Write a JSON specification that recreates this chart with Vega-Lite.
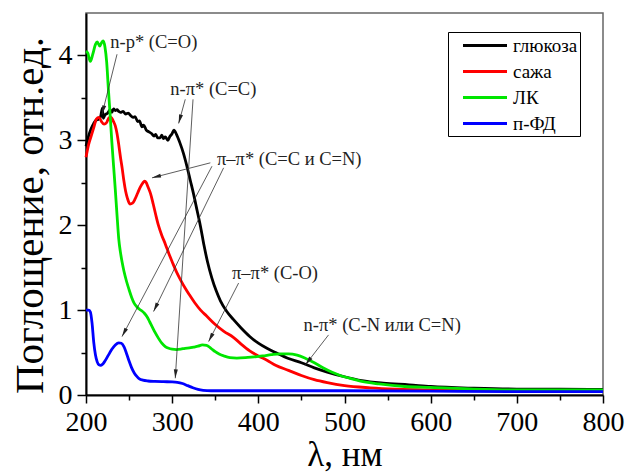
{
  "$schema": "https://vega.github.io/schema/vega-lite/v6.json",
  "autosize": "none",
  "width": 517,
  "height": 382,
  "padding": {"left": 86, "top": 13, "right": 23, "bottom": 78},
  "background": "white",
  "config": {
    "font": "Liberation Serif",
    "view": {"stroke": "#666", "strokeWidth": 1.5},
    "axis": {"grid": false, "domainColor": "#000", "domainWidth": 2, "tickColor": "#000", "tickWidth": 1.5,
      "labelFont": "Liberation Serif", "labelFontSize": 28, "labelColor": "#000", "labelFlush": false,
      "titleFont": "Liberation Serif", "titleColor": "#000", "titleFontWeight": "normal"}
  },
  "datasets": {
    "curves": [
      {"s":"глюкоза","x":200,"y":2.93},{"s":"глюкоза","x":203,"y":3.05},{"s":"глюкоза","x":206,"y":3.14},{"s":"глюкоза","x":209,"y":3.2},{"s":"глюкоза","x":212,"y":3.24},{"s":"глюкоза","x":215,"y":3.25},{"s":"глюкоза","x":217,"y":3.28},{"s":"глюкоза","x":219,"y":3.38},{"s":"глюкоза","x":220,"y":3.26},{"s":"глюкоза","x":222,"y":3.3},{"s":"глюкоза","x":225,"y":3.32},{"s":"глюкоза","x":228,"y":3.36},{"s":"глюкоза","x":230,"y":3.33},{"s":"глюкоза","x":232,"y":3.37},{"s":"глюкоза","x":234,"y":3.35},{"s":"глюкоза","x":236,"y":3.36},{"s":"глюкоза","x":238,"y":3.34},{"s":"глюкоза","x":240,"y":3.33},{"s":"глюкоза","x":243,"y":3.34},{"s":"глюкоза","x":246,"y":3.31},{"s":"глюкоза","x":249,"y":3.32},{"s":"глюкоза","x":252,"y":3.29},{"s":"глюкоза","x":255,"y":3.27},{"s":"глюкоза","x":257,"y":3.28},{"s":"глюкоза","x":260,"y":3.22},{"s":"глюкоза","x":262,"y":3.23},{"s":"глюкоза","x":265,"y":3.16},{"s":"глюкоза","x":267,"y":3.18},{"s":"глюкоза","x":270,"y":3.12},{"s":"глюкоза","x":273,"y":3.1},{"s":"глюкоза","x":276,"y":3.08},{"s":"глюкоза","x":279,"y":3.05},{"s":"глюкоза","x":281,"y":3.07},{"s":"глюкоза","x":283,"y":3.03},{"s":"глюкоза","x":286,"y":3.03},{"s":"глюкоза","x":288,"y":3.06},{"s":"глюкоза","x":290,"y":3.02},{"s":"глюкоза","x":292,"y":3.04},{"s":"глюкоза","x":295,"y":3.0},{"s":"глюкоза","x":297,"y":3.04},{"s":"глюкоза","x":300,"y":3.08},{"s":"глюкоза","x":302,"y":3.12},{"s":"глюкоза","x":305,"y":3.07},{"s":"глюкоза","x":309,"y":2.97},{"s":"глюкоза","x":313,"y":2.85},{"s":"глюкоза","x":317,"y":2.7},{"s":"глюкоза","x":321,"y":2.53},{"s":"глюкоза","x":325,"y":2.36},{"s":"глюкоза","x":329,"y":2.17},{"s":"глюкоза","x":333,"y":1.98},{"s":"глюкоза","x":337,"y":1.76},{"s":"глюкоза","x":341,"y":1.57},{"s":"глюкоза","x":346,"y":1.38},{"s":"глюкоза","x":351,"y":1.23},{"s":"глюкоза","x":356,"y":1.11},{"s":"глюкоза","x":363,"y":0.99},{"s":"глюкоза","x":371,"y":0.89},{"s":"глюкоза","x":380,"y":0.79},{"s":"глюкоза","x":390,"y":0.69},{"s":"глюкоза","x":400,"y":0.61},{"s":"глюкоза","x":410,"y":0.55},{"s":"глюкоза","x":420,"y":0.5},{"s":"глюкоза","x":435,"y":0.43},{"s":"глюкоза","x":450,"y":0.38},{"s":"глюкоза","x":465,"y":0.32},{"s":"глюкоза","x":480,"y":0.27},{"s":"глюкоза","x":500,"y":0.215},{"s":"глюкоза","x":520,"y":0.17},{"s":"глюкоза","x":545,"y":0.14},{"s":"глюкоза","x":575,"y":0.12},{"s":"глюкоза","x":600,"y":0.1},{"s":"глюкоза","x":650,"y":0.08},{"s":"глюкоза","x":700,"y":0.07},{"s":"глюкоза","x":750,"y":0.07},{"s":"глюкоза","x":800,"y":0.065},
      {"s":"сажа","x":200,"y":2.8},{"s":"сажа","x":203,"y":2.95},{"s":"сажа","x":206,"y":3.05},{"s":"сажа","x":209,"y":3.15},{"s":"сажа","x":212,"y":3.25},{"s":"сажа","x":215,"y":3.27},{"s":"сажа","x":218,"y":3.22},{"s":"сажа","x":221,"y":3.19},{"s":"сажа","x":224,"y":3.21},{"s":"сажа","x":227,"y":3.27},{"s":"сажа","x":229,"y":3.27},{"s":"сажа","x":232,"y":3.22},{"s":"сажа","x":234,"y":3.17},{"s":"сажа","x":236,"y":3.08},{"s":"сажа","x":238,"y":2.95},{"s":"сажа","x":240,"y":2.8},{"s":"сажа","x":242,"y":2.67},{"s":"сажа","x":244,"y":2.52},{"s":"сажа","x":246,"y":2.4},{"s":"сажа","x":248,"y":2.32},{"s":"сажа","x":251,"y":2.25},{"s":"сажа","x":254,"y":2.26},{"s":"сажа","x":257,"y":2.31},{"s":"сажа","x":260,"y":2.38},{"s":"сажа","x":263,"y":2.45},{"s":"сажа","x":266,"y":2.5},{"s":"сажа","x":268,"y":2.52},{"s":"сажа","x":270,"y":2.5},{"s":"сажа","x":272,"y":2.45},{"s":"сажа","x":275,"y":2.37},{"s":"сажа","x":278,"y":2.25},{"s":"сажа","x":281,"y":2.12},{"s":"сажа","x":284,"y":2.0},{"s":"сажа","x":288,"y":1.88},{"s":"сажа","x":292,"y":1.78},{"s":"сажа","x":296,"y":1.67},{"s":"сажа","x":300,"y":1.57},{"s":"сажа","x":305,"y":1.45},{"s":"сажа","x":310,"y":1.35},{"s":"сажа","x":315,"y":1.26},{"s":"сажа","x":320,"y":1.18},{"s":"сажа","x":326,"y":1.09},{"s":"сажа","x":333,"y":1.0},{"s":"сажа","x":340,"y":0.93},{"s":"сажа","x":350,"y":0.83},{"s":"сажа","x":360,"y":0.75},{"s":"сажа","x":371,"y":0.68},{"s":"сажа","x":380,"y":0.6},{"s":"сажа","x":390,"y":0.52},{"s":"сажа","x":400,"y":0.46},{"s":"сажа","x":410,"y":0.41},{"s":"сажа","x":420,"y":0.35},{"s":"сажа","x":435,"y":0.29},{"s":"сажа","x":450,"y":0.23},{"s":"сажа","x":465,"y":0.18},{"s":"сажа","x":480,"y":0.145},{"s":"сажа","x":500,"y":0.11},{"s":"сажа","x":530,"y":0.085},{"s":"сажа","x":560,"y":0.07},{"s":"сажа","x":600,"y":0.06},{"s":"сажа","x":700,"y":0.05},{"s":"сажа","x":800,"y":0.05},
      {"s":"ЛК","x":200,"y":4.05},{"s":"ЛК","x":202,"y":4.03},{"s":"ЛК","x":205,"y":3.93},{"s":"ЛК","x":208,"y":4.02},{"s":"ЛК","x":211,"y":4.13},{"s":"ЛК","x":213,"y":4.16},{"s":"ЛК","x":216,"y":4.11},{"s":"ЛК","x":218,"y":4.15},{"s":"ЛК","x":220,"y":4.17},{"s":"ЛК","x":222,"y":4.1},{"s":"ЛК","x":224,"y":3.92},{"s":"ЛК","x":226,"y":3.6},{"s":"ЛК","x":228,"y":3.3},{"s":"ЛК","x":230,"y":2.98},{"s":"ЛК","x":232,"y":2.7},{"s":"ЛК","x":234,"y":2.42},{"s":"ЛК","x":236,"y":2.12},{"s":"ЛК","x":238,"y":1.84},{"s":"ЛК","x":240,"y":1.68},{"s":"ЛК","x":242,"y":1.56},{"s":"ЛК","x":244,"y":1.46},{"s":"ЛК","x":247,"y":1.34},{"s":"ЛК","x":250,"y":1.24},{"s":"ЛК","x":253,"y":1.15},{"s":"ЛК","x":256,"y":1.08},{"s":"ЛК","x":259,"y":1.04},{"s":"ЛК","x":262,"y":1.01},{"s":"ЛК","x":265,"y":0.99},{"s":"ЛК","x":268,"y":0.96},{"s":"ЛК","x":271,"y":0.92},{"s":"ЛК","x":274,"y":0.86},{"s":"ЛК","x":277,"y":0.8},{"s":"ЛК","x":280,"y":0.74},{"s":"ЛК","x":284,"y":0.67},{"s":"ЛК","x":288,"y":0.61},{"s":"ЛК","x":292,"y":0.57},{"s":"ЛК","x":296,"y":0.55},{"s":"ЛК","x":300,"y":0.54},{"s":"ЛК","x":305,"y":0.535},{"s":"ЛК","x":310,"y":0.54},{"s":"ЛК","x":315,"y":0.55},{"s":"ЛК","x":320,"y":0.555},{"s":"ЛК","x":325,"y":0.565},{"s":"ЛК","x":330,"y":0.575},{"s":"ЛК","x":335,"y":0.59},{"s":"ЛК","x":340,"y":0.585},{"s":"ЛК","x":345,"y":0.55},{"s":"ЛК","x":350,"y":0.51},{"s":"ЛК","x":355,"y":0.48},{"s":"ЛК","x":360,"y":0.46},{"s":"ЛК","x":367,"y":0.44},{"s":"ЛК","x":375,"y":0.435},{"s":"ЛК","x":385,"y":0.44},{"s":"ЛК","x":395,"y":0.45},{"s":"ЛК","x":405,"y":0.46},{"s":"ЛК","x":415,"y":0.475},{"s":"ЛК","x":425,"y":0.485},{"s":"ЛК","x":435,"y":0.485},{"s":"ЛК","x":445,"y":0.47},{"s":"ЛК","x":455,"y":0.43},{"s":"ЛК","x":465,"y":0.38},{"s":"ЛК","x":475,"y":0.32},{"s":"ЛК","x":485,"y":0.27},{"s":"ЛК","x":495,"y":0.23},{"s":"ЛК","x":505,"y":0.2},{"s":"ЛК","x":520,"y":0.16},{"s":"ЛК","x":540,"y":0.13},{"s":"ЛК","x":570,"y":0.1},{"s":"ЛК","x":600,"y":0.09},{"s":"ЛК","x":650,"y":0.07},{"s":"ЛК","x":700,"y":0.06},{"s":"ЛК","x":800,"y":0.06},
      {"s":"п-ФД","x":200,"y":1.0},{"s":"п-ФД","x":203,"y":1.0},{"s":"п-ФД","x":205,"y":0.98},{"s":"п-ФД","x":207,"y":0.85},{"s":"п-ФД","x":209,"y":0.62},{"s":"п-ФД","x":211,"y":0.47},{"s":"п-ФД","x":213,"y":0.39},{"s":"п-ФД","x":215,"y":0.355},{"s":"п-ФД","x":217,"y":0.35},{"s":"п-ФД","x":219,"y":0.36},{"s":"п-ФД","x":222,"y":0.4},{"s":"п-ФД","x":226,"y":0.47},{"s":"п-ФД","x":230,"y":0.54},{"s":"п-ФД","x":234,"y":0.59},{"s":"п-ФД","x":238,"y":0.615},{"s":"п-ФД","x":241,"y":0.61},{"s":"п-ФД","x":244,"y":0.57},{"s":"п-ФД","x":247,"y":0.49},{"s":"п-ФД","x":250,"y":0.4},{"s":"п-ФД","x":253,"y":0.32},{"s":"п-ФД","x":256,"y":0.26},{"s":"п-ФД","x":259,"y":0.22},{"s":"п-ФД","x":262,"y":0.19},{"s":"п-ФД","x":266,"y":0.175},{"s":"п-ФД","x":272,"y":0.165},{"s":"п-ФД","x":280,"y":0.16},{"s":"п-ФД","x":290,"y":0.157},{"s":"п-ФД","x":300,"y":0.155},{"s":"п-ФД","x":306,"y":0.15},{"s":"п-ФД","x":312,"y":0.135},{"s":"п-ФД","x":318,"y":0.11},{"s":"п-ФД","x":324,"y":0.085},{"s":"п-ФД","x":330,"y":0.065},{"s":"п-ФД","x":336,"y":0.055},{"s":"п-ФД","x":345,"y":0.05},{"s":"п-ФД","x":400,"y":0.05},{"s":"п-ФД","x":500,"y":0.05},{"s":"п-ФД","x":600,"y":0.045},{"s":"п-ФД","x":700,"y":0.04},{"s":"п-ФД","x":800,"y":0.04}
    ],
    "arrows": [
      {"x":236.0,"y":4.014,"x2":218.6,"y2":3.306,"a":194},
      {"x":315.2,"y":3.483,"x2":307.5,"y2":3.199,"a":195.6},
      {"x":324.2,"y":3.483,"x2":303.6,"y2":0.197,"a":183.6},
      {"x":344.3,"y":2.735,"x2":276.6,"y2":2.558,"a":255.6},
      {"x":346.2,"y":2.695,"x2":241.8,"y2":0.688,"a":207.9},
      {"x":359.7,"y":2.676,"x2":278.4,"y2":0.983,"a":206.0},
      {"x":377.1,"y":1.319,"x2":342.3,"y2":0.629,"a":207.2},
      {"x":481.5,"y":0.708,"x2":454.5,"y2":0.354,"a":217.8}
    ],
    "labels": [
      {"t":"n-p* (C=O)","x":228.2,"y":4.156},
      {"t":"n-π* (C=C)","x":297.8,"y":3.601},
      {"t":"π–π* (C=C и C=N)","x":352.0,"y":2.783},
      {"t":"π–π* (C-O)","x":369.4,"y":1.437},
      {"t":"n-π* (C-N или C=N)","x":452.5,"y":0.826}
    ]
  },
  "resolve": {"axis": {"x": "independent", "y": "independent"}},
  "layer": [
    {
      "data": {"name": "curves"},
      "mark": {"type": "line", "strokeWidth": 2.8, "interpolate": "monotone"},
      "encoding": {
        "x": {"field": "x", "type": "quantitative", "scale": {"domain": [200, 800], "nice": false},
          "axis": {"orient": "bottom", "values": [200,300,400,500,600,700,800], "tickSize": 8, "labelPadding": 5, "labelFlush": false,
            "title": "λ, нм", "titleFontSize": 35, "titleX": 258.5, "titleY": 70, "titleBaseline": "alphabetic"}},
        "y": {"field": "y", "type": "quantitative", "scale": {"domain": [0, 4.5], "nice": false},
          "axis": {"orient": "left", "values": [0,1,2,3,4], "tickSize": 9, "labelPadding": 5, "labelFlush": false,
            "title": "Поглощение, отн.ед.", "titleFontSize": 41, "titleX": -44, "titleY": 202, "titleBaseline": "alphabetic", "titleAngle": 270}},
        "color": {"field": "s", "type": "nominal", "sort": ["глюкоза","сажа","ЛК","п-ФД"],
          "scale": {"domain": ["глюкоза","сажа","ЛК","п-ФД"], "range": ["#000000","#ff0000","#00e600","#0000ff"]},
          "legend": {"orient": "none", "legendX": 362, "legendY": 19, "title": null, "symbolType": "M0.15,0H4.55",
            "symbolSize": 400, "symbolStrokeWidth": 3, "labelFont": "Liberation Serif", "labelFontSize": 19,
            "labelColor": "#000", "strokeColor": "#000", "padding": 2, "rowPadding": 4, "labelOffset": 40, "fillColor": "white"}}
      }
    },
    {
      "data": {"name": "arrows"},
      "mark": {"type": "rule", "strokeWidth": 0.8, "color": "#333"},
      "encoding": {
        "x": {"field": "x", "type": "quantitative", "axis": null},
        "y": {"field": "y", "type": "quantitative", "axis": null},
        "x2": {"field": "x2"},
        "y2": {"field": "y2"}
      }
    },
    {
      "data": {"name": "arrows"},
      "mark": {"type": "point", "shape": "M0,0L-0.45,2L0.45,2Z", "filled": true, "color": "#222", "size": 81, "opacity": 1},
      "encoding": {
        "x": {"field": "x2", "type": "quantitative", "axis": null},
        "y": {"field": "y2", "type": "quantitative", "axis": null},
        "angle": {"field": "a", "type": "quantitative", "scale": null}
      }
    },
    {
      "data": {"name": "labels"},
      "mark": {"type": "text", "align": "left", "baseline": "middle", "font": "Liberation Serif", "fontSize": 18.5, "color": "#222"},
      "encoding": {
        "x": {"field": "x", "type": "quantitative",
          "axis": {"orient": "bottom", "values": [250,350,450,550,650,750], "tickSize": 5, "labels": false, "domain": false, "title": null}},
        "y": {"field": "y", "type": "quantitative",
          "axis": {"orient": "left", "values": [0.5,1.5,2.5,3.5], "tickSize": 5, "labels": false, "domain": false, "title": null}},
        "text": {"field": "t"}
      }
    }
  ]
}
